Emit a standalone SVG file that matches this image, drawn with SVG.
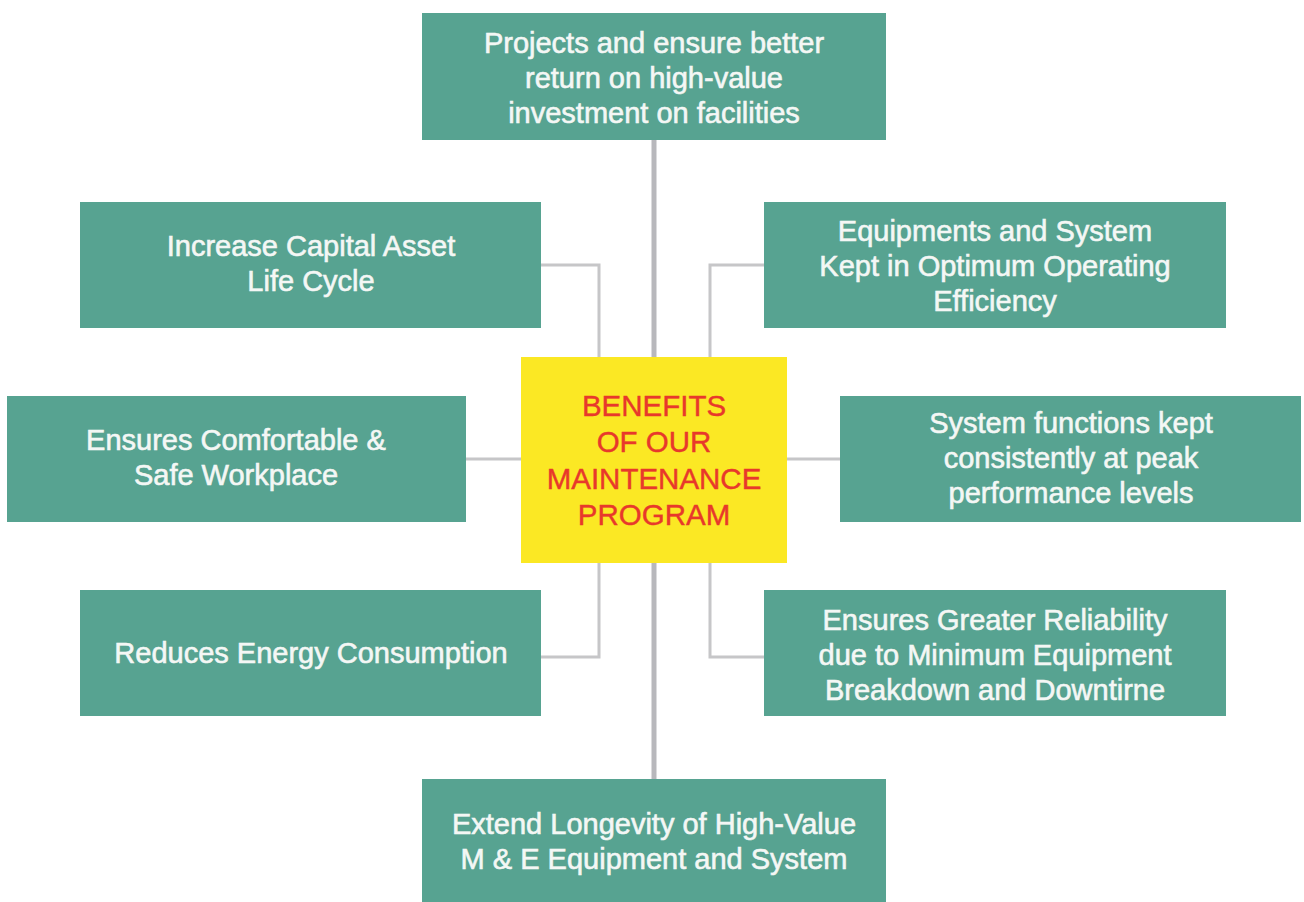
<svg xmlns="http://www.w3.org/2000/svg" width="1304" height="902" viewBox="0 0 1304 902">
<style>
.box{fill:#57a391}
.t{font-family:"Liberation Sans",Arial,Helvetica,sans-serif;font-size:29px;fill:#f4f7f5;stroke:#f4f7f5;stroke-width:0.6;text-anchor:middle}
.c{font-family:"Liberation Sans",Arial,Helvetica,sans-serif;font-size:29.5px;fill:#e8382b;stroke:#e8382b;stroke-width:0.4;text-anchor:middle}
.ln{fill:none;stroke:#c6c6c8;stroke-width:3}
.main{fill:none;stroke:#b8b8bc;stroke-width:5}
</style>
<rect width="1304" height="902" fill="#ffffff"/>
<g id="connectors">
<line class="main" x1="654" y1="140" x2="654" y2="357"/>
<line class="main" x1="654" y1="563" x2="654" y2="779"/>
<line class="ln" x1="466" y1="459" x2="521" y2="459"/>
<line class="ln" x1="787" y1="459" x2="840" y2="459"/>
<polyline class="ln" points="541,265 599,265 599,357"/>
<polyline class="ln" points="764,265 710,265 710,357"/>
<polyline class="ln" points="599,563 599,657 541,657"/>
<polyline class="ln" points="710,563 710,657 764,657"/>
</g>
<g id="center">
<rect x="521" y="357" width="266" height="206" fill="#fbe824"/>
<text class="c" x="654" y="416">BENEFITS</text>
<text class="c" x="654" y="452">OF OUR</text>
<text class="c" x="654" y="489">MAINTENANCE</text>
<text class="c" x="654" y="525">PROGRAM</text>
</g>
<g id="top">
<rect class="box" x="422" y="13" width="464" height="127"/>
<text class="t" x="654" y="53">Projects and ensure better</text>
<text class="t" x="654" y="88">return on high-value</text>
<text class="t" x="654" y="123">investment on facilities</text>
</g>
<g id="capital">
<rect class="box" x="80" y="202" width="461" height="126"/>
<text class="t" x="311" y="256">Increase Capital Asset</text>
<text class="t" x="311" y="291">Life Cycle</text>
</g>
<g id="equipments">
<rect class="box" x="764" y="202" width="462" height="126"/>
<text class="t" x="995" y="241">Equipments and System</text>
<text class="t" x="995" y="276">Kept in Optimum Operating</text>
<text class="t" x="995" y="311">Efficiency</text>
</g>
<g id="comfortable">
<rect class="box" x="7" y="396" width="459" height="126"/>
<text class="t" x="236" y="450">Ensures Comfortable &amp;</text>
<text class="t" x="236" y="485">Safe Workplace</text>
</g>
<g id="system">
<rect class="box" x="840" y="396" width="461" height="126"/>
<text class="t" x="1071" y="433">System functions kept</text>
<text class="t" x="1071" y="468">consistently at peak</text>
<text class="t" x="1071" y="503">performance levels</text>
</g>
<g id="energy">
<rect class="box" x="80" y="590" width="461" height="126"/>
<text class="t" x="311" y="663">Reduces Energy Consumption</text>
</g>
<g id="reliability">
<rect class="box" x="764" y="590" width="462" height="126"/>
<text class="t" x="995" y="630">Ensures Greater Reliability</text>
<text class="t" x="995" y="665">due to Minimum Equipment</text>
<text class="t" x="995" y="700">Breakdown and Downtirne</text>
</g>
<g id="longevity">
<rect class="box" x="422" y="779" width="464" height="123"/>
<text class="t" x="654" y="834">Extend Longevity of High-Value</text>
<text class="t" x="654" y="869">M &amp; E Equipment and System</text>
</g>
</svg>
